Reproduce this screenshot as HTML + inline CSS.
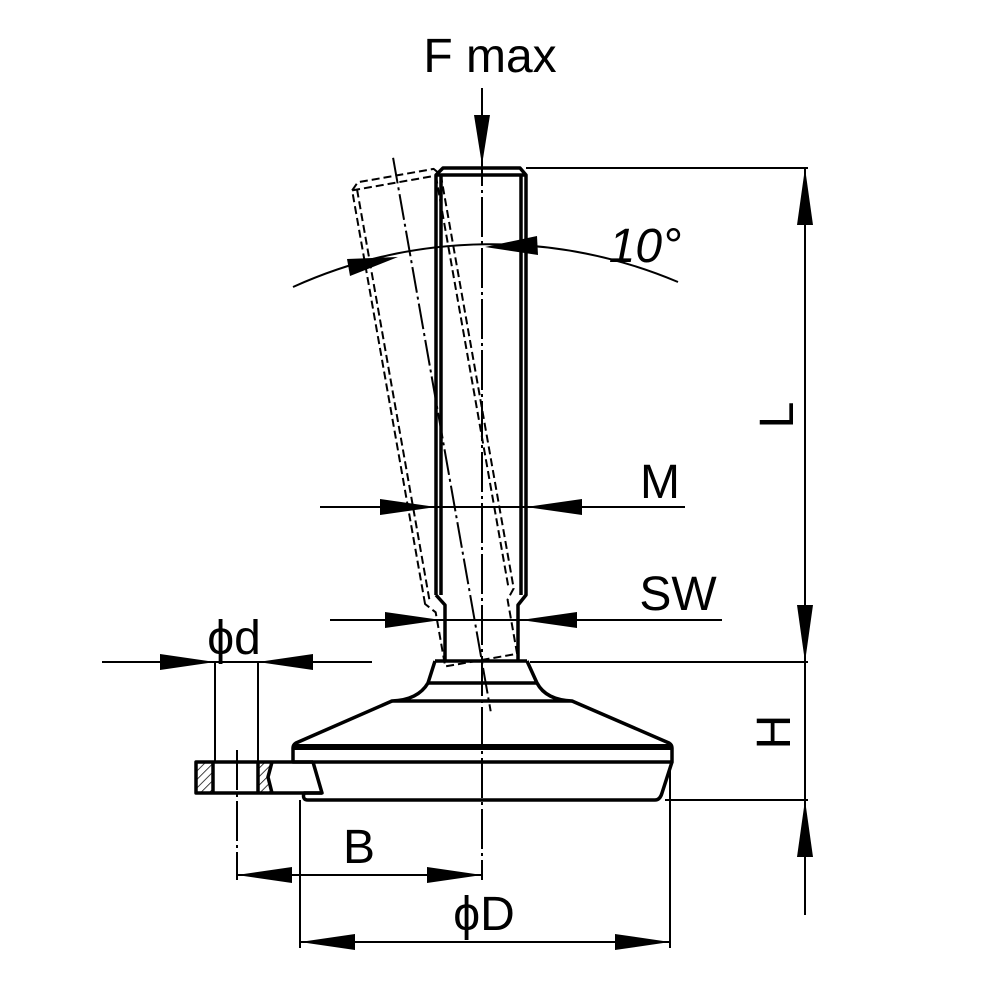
<!DOCTYPE html>
<html><head><meta charset="utf-8"><style>html,body{margin:0;padding:0;background:#fff}svg{display:block}</style></head><body>
<svg width="981" height="981" viewBox="0 0 981 981" xmlns="http://www.w3.org/2000/svg">
<defs>
<pattern id="h" width="6" height="6" patternUnits="userSpaceOnUse" patternTransform="rotate(45)"><line x1="0" y1="0" x2="0" y2="6" stroke="#000" stroke-width="1.5"/></pattern>
</defs>
<rect width="981" height="981" fill="#fff"/>
<g fill="none" stroke="#000" stroke-linejoin="round">
<g transform="rotate(-10 482 662)" stroke-width="2" stroke-dasharray="8 4">
<path d="M436,595 L436,175 L443,168 L520,168 L526,175 L526,595 L518,605 L518,660 L445,660 L445,605 Z"/>
<line x1="441" y1="175" x2="441" y2="595"/><line x1="521" y1="175" x2="521" y2="595"/>
<line x1="436" y1="175" x2="526" y2="175"/>
</g>
<g transform="rotate(-10 482 662)" stroke-width="2" stroke-dasharray="26 4 3 4">
<line x1="482" y1="150" x2="482" y2="712"/>
</g>
<g stroke-width="3.5">
<path d="M436,595 L436,175 L443,168 L520,168 L526,175 L526,595 L518,605 L518,661 M445,661 L445,605 L436,595"/>
<line x1="441" y1="175" x2="441" y2="595"/><line x1="521" y1="175" x2="521" y2="595"/>
<line x1="436" y1="175" x2="526" y2="175"/>
</g>
<g stroke-width="3.5">
<path d="M435,661 L527,661"/>
<path d="M435,661 L428,683 Q418,700 392,701 L572,701 Q546,700 537,683 L527,661"/>
<line x1="428" y1="683" x2="537" y2="683"/>
<path d="M392,701 L296,743 Q293,745 293,748 L293,762 L672,762 L672,748 Q672,745 669,743 L572,701"/>
<line x1="293" y1="747" x2="672" y2="747" stroke-width="6"/>
<path d="M313,762 L322,793 L304,793 Q302,800 308,800 L655,800 Q660,800 662,793 L672,762"/>
<path d="M322,793 L196,793 L196,762 L313,762"/>
<rect x="197" y="763" width="16" height="29" fill="url(#h)" stroke="none"/>
<path d="M258,763 L272,763 L268,777 L272,792 L258,792 Z" fill="url(#h)" stroke="none"/>
<line x1="213" y1="762" x2="213" y2="793"/>
<line x1="258" y1="762" x2="258" y2="793"/>
<path d="M272,762 L268,777 L272,793"/>
</g>
<g stroke-width="2" stroke-dasharray="40 4 3 4">
<line x1="482" y1="95" x2="482" y2="880"/>
<line x1="237" y1="750" x2="237" y2="880"/>
</g>
<g stroke-width="2">
<line x1="526" y1="168" x2="808" y2="168"/>
<line x1="530" y1="662" x2="808" y2="662"/>
<line x1="665" y1="800" x2="808" y2="800"/>
<line x1="805" y1="168" x2="805" y2="915"/>
<line x1="320" y1="507" x2="685" y2="507"/>
<line x1="330" y1="620" x2="722" y2="620"/>
<line x1="102" y1="662" x2="372" y2="662"/>
<line x1="215" y1="662" x2="215" y2="762"/>
<line x1="258" y1="662" x2="258" y2="762"/>
<line x1="237" y1="875" x2="482" y2="875"/>
<line x1="300" y1="800" x2="300" y2="948"/>
<line x1="670" y1="770" x2="670" y2="948"/>
<line x1="300" y1="942" x2="670" y2="942"/>
<line x1="482" y1="88" x2="482" y2="110"/>
<path d="M293,287 A481,481 0 0 1 678,282"/>
</g>
</g>
<g fill="#000">
<path d="M482,165 L474,115 L490,115 Z"/>
<path d="M805,168 L797,225 L813,225 Z"/>
<path d="M805,662 L797,605 L813,605 Z"/>
<path d="M805,800 L797,857 L813,857 Z"/>
<path d="M436,507 L380,499 L380,515 Z"/>
<path d="M526,507 L582,499 L582,515 Z"/>
<path d="M441,620 L385,612 L385,628 Z"/>
<path d="M521,620 L577,612 L577,628 Z"/>
<path d="M215,662 L160,654 L160,670 Z"/>
<path d="M258,662 L313,654 L313,670 Z"/>
<path d="M237,875 L292,867 L292,883 Z"/>
<path d="M482,875 L427,867 L427,883 Z"/>
<path d="M300,942 L355,934 L355,950 Z"/>
<path d="M670,942 L615,934 L615,950 Z"/>
<path d="M398,257 L347,259 L350,276 Z"/>
<path d="M485,247 L537,236 L538,255 Z"/>
</g>
<g font-family="Liberation Sans, DejaVu Sans, sans-serif" font-size="48" fill="#000">
<text x="490" y="72" text-anchor="middle">F max</text>
<text x="660" y="498" text-anchor="middle">M</text>
<text x="678" y="610" text-anchor="middle">SW</text>
<text x="234" y="654" text-anchor="middle">ϕd</text>
<text x="359" y="863" text-anchor="middle">B</text>
<text x="484" y="930" text-anchor="middle">ϕD</text>
<text x="645" y="262" text-anchor="middle" font-style="italic">10°</text>
<text transform="translate(793,415) rotate(-90)" text-anchor="middle">L</text>
<text transform="translate(790,732) rotate(-90)" text-anchor="middle">H</text>
</g>
</svg>
</body></html>
